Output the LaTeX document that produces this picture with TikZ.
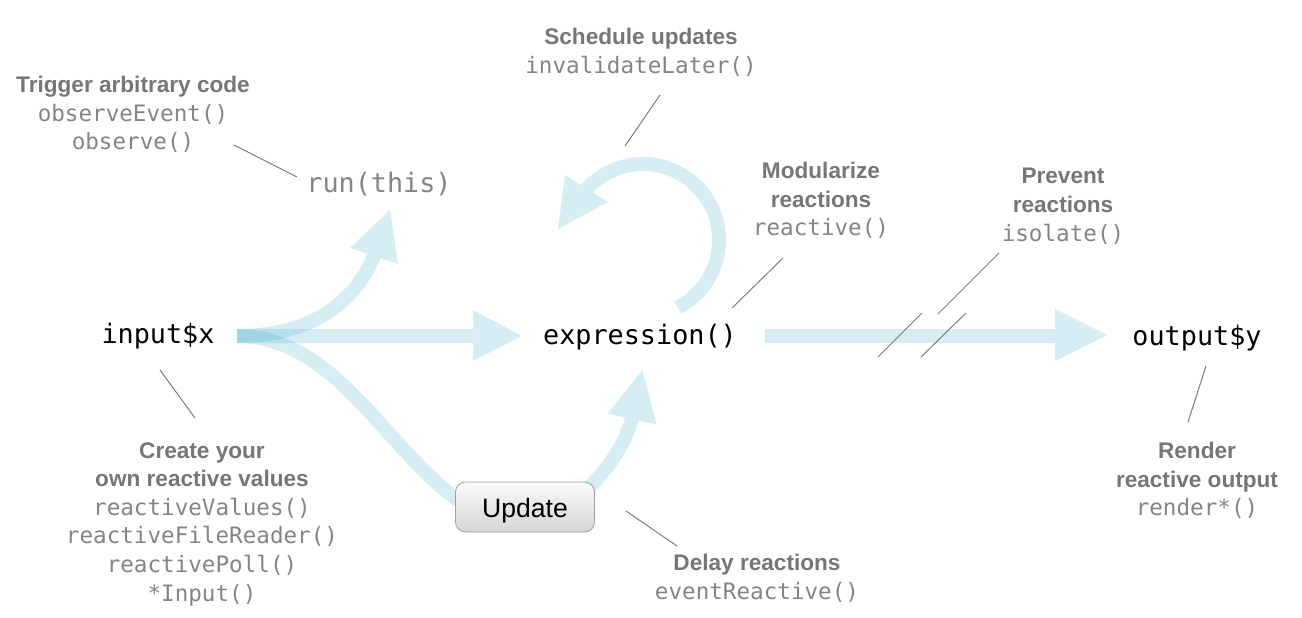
\documentclass[tikz,border=0pt]{standalone}
\usepackage{fontspec}
\setmainfont{Liberation Sans}
\newfontfamily\codefam{DejaVu Sans Mono}
\newfontfamily\headfam{Liberation Sans}

\definecolor{flow}{RGB}{95,185,210}
\definecolor{headgray}{RGB}{118,118,118}
\definecolor{codegray}{RGB}{132,132,132}
\definecolor{leadgray}{RGB}{125,125,125}

\newcommand{\hd}[1]{{\headfam\bfseries\color{headgray}#1}}
\newcommand{\cd}[1]{{\codefam\color{codegray}#1}}

\begin{document}
\begin{tikzpicture}[x=0.5pt,y=-0.5pt,
  flowshaft/.style={draw=flow, line width=7pt},
  flowtip/.style={fill=flow},
  flowgroup/.style={transparency group, opacity=0.26},
  notetext/.style={align=center, inner sep=0pt, anchor=north,
                   font=\fontsize{11.3}{14.3}\selectfont},
  termtext/.style={inner sep=0pt, anchor=base,
                   font=\codefam\fontsize{13.4}{16}\selectfont},
  leadline/.style={draw=leadgray, line width=0.5pt},
  updatebtn/.style={draw=gray!75, rounded corners=5pt, top color=gray!4,
                    bottom color=gray!32, minimum width=69.5pt,
                    minimum height=25pt, inner sep=0pt,
                    text height=11pt, text depth=1pt,
                    font=\fontsize{13.3}{16}\selectfont}]

\useasboundingbox (0,0) rectangle (1302,617);

% ---------- reactive terms ----------
\node[termtext] (inx) at (158,343) {input\$x};
\node[termtext] (expr) at (640,344) {expression()};
\node[termtext] (outy) at (1197,345) {output\$y};
\node[termtext, text=codegray] (run) at (379,192) {run(this)};

% ---------- flow arrows ----------
\coordinate (src) at (237,336);

% input -> expression
\begin{scope}[flowgroup]
  \draw[flowshaft] (src) -- (480,336);
  \fill[flowtip] (473,310) -- (522,336) -- (473,361) -- cycle;
\end{scope}

% input -> run(this)
\begin{scope}[flowgroup]
  \draw[flowshaft] (src) .. controls (320,336) and (361,294) .. (376,250);
  \fill[flowtip] (350,248) -- (390,210) -- (398,264) -- cycle;
\end{scope}

% input -> update button
\begin{scope}[flowgroup]
  \draw[flowshaft] (src) .. controls (340,336) and (390,460) .. (470,508);
\end{scope}

% update button -> expression
\begin{scope}[flowgroup]
  \draw[flowshaft] (565,510) .. controls (600,480) and (625,450) .. (634,412);
  \fill[flowtip] (607.5,413.75) -- (642.3,370) -- (656.5,424.25) -- cycle;
\end{scope}

% self loop on expression
\coordinate (loopc) at (643,240);
\begin{scope}[flowgroup]
  \draw[flowshaft] (loopc) ++(62.8:76) arc[start angle=62.8, end angle=-140, radius=76];
  \fill[flowtip] (565,175) -- (608,202) -- (558,229) -- cycle;
\end{scope}

% expression -> output
\begin{scope}[flowgroup]
  \draw[flowshaft] (765,336) -- (1060,336);
  \fill[flowtip] (1055,309) -- (1107,335) -- (1055,361) -- cycle;
\end{scope}

% update button
\node[updatebtn] (upd) at (525,507) {Update};

% ---------- annotations ----------
\node[notetext] (trig) at (133,76)
  {\hd{Trigger arbitrary code}\\ \cd{observeEvent()}\\ \cd{observe()}};
\node[notetext] (sched) at (641,28)
  {\hd{Schedule updates}\\ \cd{invalidateLater()}};
\node[notetext] (modu) at (821,162)
  {\hd{Modularize}\\ \hd{reactions}\\ \cd{reactive()}};
\node[notetext] (prev) at (1063,168)
  {\hd{Prevent}\\ \hd{reactions}\\ \cd{isolate()}};
\node[notetext] (create) at (202,442)
  {\hd{Create your}\\ \hd{own reactive values}\\ \cd{reactiveValues()}\\
   \cd{reactiveFileReader()}\\ \cd{reactivePoll()}\\ \cd{*Input()}};
\node[notetext] (delay) at (757,554)
  {\hd{Delay reactions}\\ \cd{eventReactive()}};
\node[notetext] (render) at (1197,442)
  {\hd{Render}\\ \hd{reactive output}\\ \cd{render*()}};

% ---------- leader lines ----------
\coordinate (trigA) at (234,145);  \coordinate (trigB) at (297,177);
\coordinate (schA) at (660,95);    \coordinate (schB) at (625,146);
\coordinate (modA) at (783,258);   \coordinate (modB) at (732,308);
\coordinate (prvA) at (999,253);   \coordinate (prvB) at (938,314);
\coordinate (crA) at (160,370);    \coordinate (crB) at (195,418);
\coordinate (dlA) at (626,511);    \coordinate (dlB) at (677,546);
\coordinate (rnA) at (1206,366);   \coordinate (rnB) at (1188,422);
\coordinate (cut1A) at (878,357);  \coordinate (cut1B) at (922,313);
\coordinate (cut2A) at (921,357);  \coordinate (cut2B) at (966,313);

\draw[leadline] (trigA) -- (trigB);
\draw[leadline] (schA) -- (schB);
\draw[leadline] (modA) -- (modB);
\draw[leadline] (prvA) -- (prvB);
\draw[leadline] (crA) -- (crB);
\draw[leadline] (dlA) -- (dlB);
\draw[leadline] (rnA) -- (rnB);
\draw[leadline] (cut1A) -- (cut1B);
\draw[leadline] (cut2A) -- (cut2B);

\end{tikzpicture}
\end{document}
